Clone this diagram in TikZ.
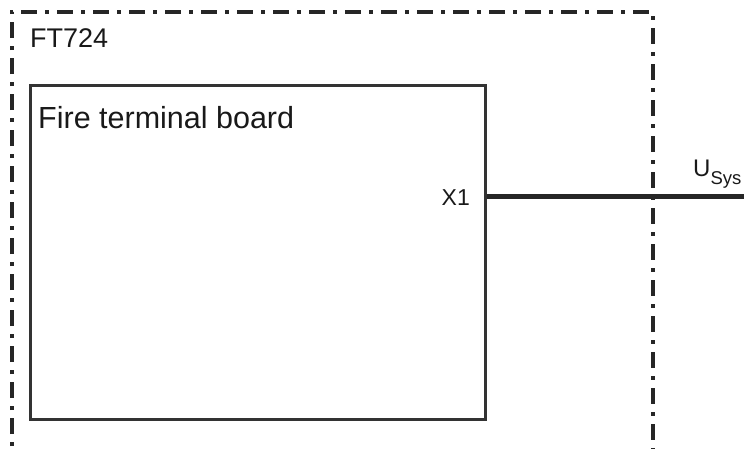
\documentclass[tikz,border=0pt]{standalone}
\usepackage{fontspec}
\setmainfont{Liberation Sans}
\begin{document}
\begin{tikzpicture}[x=1pt,y=-1pt,
  frameline/.style={line width=4pt, draw=black!85, dash pattern=on 16pt off 8pt on 4pt off 8pt},
  boardbox/.style={line width=3pt, draw=black!80},
  wire/.style={line width=5.5pt, draw=black!85},
  lbl/.style={inner sep=0pt, anchor=base west, text=black!90}]
\useasboundingbox (0,0) rectangle (744,448);
\draw[frameline] (11.5,470) -- (11.5,11.5) -- (652.5,11.5) -- (652.5,470);
\node[draw, boardbox, minimum width=455.5pt, minimum height=334.5pt, anchor=north west, inner sep=0pt] (board) at (28.5,83.5) {};
\node[lbl, font=\fontsize{27}{30}\selectfont] (ft) at (30,47) {FT724};
\node[lbl, font=\fontsize{30.5}{34}\selectfont] (ftb) at (38,128) {Fire terminal board};
\node[lbl, font=\fontsize{23}{26}\selectfont, anchor=base east] (x1) at (470,205) {X1};
\coordinate (wend) at (760,196.5);
\draw[wire] (board.east |- 0,196.5) -- (wend);
\node[lbl, font=\fontsize{24}{28}\selectfont] (usys) at (693,176) {U\raisebox{-8pt}{\fontsize{18.5}{22}\selectfont Sys}};
\end{tikzpicture}
\end{document}
